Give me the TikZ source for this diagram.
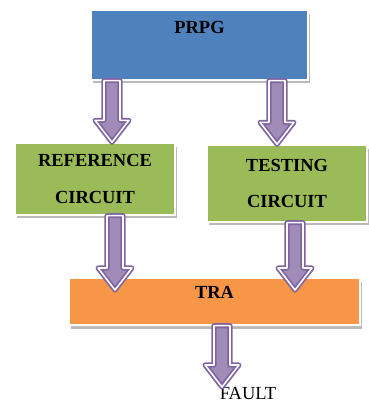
\documentclass[tikz,border=0pt]{standalone}
\usepackage{fontspec}
\setmainfont{Liberation Serif}
\usetikzlibrary{calc,shadows}

\definecolor{prpgblue}{HTML}{4F81BD}
\definecolor{circgreen}{HTML}{9BBB59}
\definecolor{traorange}{HTML}{F79646}
\definecolor{arrpurple}{HTML}{8064A2}

\tikzset{
    box/.style={draw=white, line width=0.8pt, inner sep=0pt, align=center,
        font=\fontsize{10.5}{12}\selectfont\bfseries,
        drop shadow={shadow xshift=0.04cm, shadow yshift=-0.07cm, opacity=0.45, fill=black!60}},
    blockarr/.style={draw=arrpurple, double=white, double distance=0.9pt,
        line width=1pt, fill=arrpurple!75, line join=round}
}

% block arrow straight down from #1 to #2
\newcommand{\blockarrow}[2]{%
    \draw[blockarr] ($(#1)+(-8,0)$) -- ($(#2)+(-8,-22)$) -- ($(#2)+(-17,-22)$)
        -- (#2) -- ($(#2)+(17,-22)$) -- ($(#2)+(8,-22)$) -- ($(#1)+(8,0)$) -- cycle;}

\begin{document}
\begin{tikzpicture}[x=0.02cm, y=-0.02cm]
    \useasboundingbox (0, 0) rectangle (369, 407);

    %%boxes
    \node at(199.5, 45)(prpg)[box, fill=prpgblue, minimum width=4.34cm, minimum height=1.4cm,
        label={[anchor=center, yshift=-0.36cm, font=\fontsize{10.5}{12}\selectfont\bfseries]north:PRPG}]{};
    \node at(95, 179)(refc)[box, fill=circgreen, minimum width=3.2cm, minimum height=1.44cm]
        {REFERENCE\\[0.3cm]CIRCUIT};
    \node at(287, 183.5)(testc)[box, fill=circgreen, minimum width=3.2cm, minimum height=1.54cm]
        {TESTING\\[0.3cm]CIRCUIT};
    \node at(214.5, 301.5)(tra)[box, fill=traorange, minimum width=5.82cm, minimum height=0.94cm,
        label={[anchor=center, yshift=-0.3cm, font=\fontsize{10.5}{12}\selectfont\bfseries]north:TRA}]{};
    \node at(248, 393)(fault){\fontsize{10.5}{12}\selectfont FAULT};

    %%arrow ends
    \coordinate (a1) at (prpg.south -| 112, 0);
    \coordinate (a2) at (refc.north -| 112, 0);
    \coordinate (b1) at (prpg.south -| 277, 0);
    \coordinate (b2) at (testc.north -| 277, 0);
    \coordinate (c1) at (refc.south -| 115, 0);
    \coordinate (c2) at (115, 290);
    \coordinate (d1) at (testc.south -| 295, 0);
    \coordinate (d2) at (295, 290);
    \coordinate (e1) at (tra.south -| 222, 0);
    \coordinate (e2) at (222, 387);

    %%arrows
    \blockarrow{a1}{a2}
    \blockarrow{b1}{b2}
    \blockarrow{c1}{c2}
    \blockarrow{d1}{d2}
    \blockarrow{e1}{e2}
\end{tikzpicture}
\end{document}
